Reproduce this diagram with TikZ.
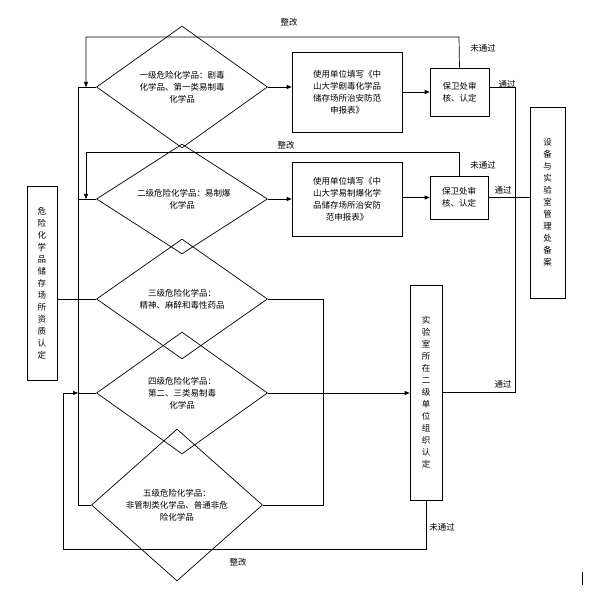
\documentclass[tikz,border=0pt]{standalone}
\usepackage{fontspec}
\setmainfont{Noto Sans CJK SC}
\usetikzlibrary{shapes.geometric,arrows.meta}
\begin{document}
\begin{tikzpicture}[x=1pt,y=-1pt,font=\fontsize{8.5}{12}\selectfont,
  line/.style={draw,line width=0.7pt},
  arr/.style={line,-{Triangle[length=5pt,width=4pt]}},
  dia/.style={draw,line width=0.7pt,diamond,inner sep=0pt,align=center},
  box/.style={draw,line width=0.7pt,inner sep=1pt,align=center},
  lbl/.style={inner sep=1pt}]
\useasboundingbox (0,0) rectangle (606,601);
% diamonds
\node[dia,minimum width=171pt,minimum height=70pt,text width=90pt] (d1) at (182,87) {一级危险化学品：剧毒\\化学品、第一类易制毒\\化学品};
\node[dia,minimum width=171pt,minimum height=58pt,text width=90pt] (d2) at (182,199) {二级危险化学品：易制爆\\化学品};
\node[dia,minimum width=171pt,minimum height=62pt,text width=100pt] (d3) at (182,299) {三级危险化学品：\\精神、麻醉和毒性药品};
\node[dia,minimum width=171pt,minimum height=65pt,text width=90pt] (d4) at (182,393) {四级危险化学品：\\第二、三类易制毒\\化学品};
\node[dia,minimum width=171pt,minimum height=60pt,text width=120pt] (d5) at (177,505) {五级危险化学品：\\非管制类化学品、普通非危\\险化学品};
% boxes
\node[box,minimum width=110pt,minimum height=80pt,text width=100pt] (b1) at (347,92) {使用单位填写《中\\山大学剧毒化学品\\储存场所治安防范\\申报表》};
\node[box,minimum width=110pt,minimum height=74pt,text width=100pt] (b2) at (347,199) {使用单位填写《中\\山大学易制爆化学\\品储存场所治安防\\范申报表》};
\node[box,minimum width=59pt,minimum height=48pt,text width=50pt] (s1) at (459.5,92) {保卫处审\\核、认定};
\node[box,minimum width=58pt,minimum height=43pt,text width=50pt] (s2) at (459,197.5) {保卫处审\\核、认定};
\node[box,minimum width=35pt,minimum height=191pt,text width=10pt] (eq) at (547.5,202.5) {设\\备\\与\\实\\验\\室\\管\\理\\处\\备\\案};
\node[box,minimum width=30pt,minimum height=194pt,text width=10pt] (hz) at (42,283) {危\\险\\化\\学\\品\\储\\存\\场\\所\\资\\质\\认\\定};
\node[box,minimum width=32pt,minimum height=215pt,text width=10pt] (lab) at (426,392.5) {实\\验\\室\\所\\在\\二\\级\\单\\位\\组\\织\\认\\定};
% coordinates
\coordinate (t1) at (78,87);
\coordinate (t5) at (78,505);
\coordinate (c3) at (323,299);
\coordinate (c5) at (323,505);
\coordinate (f1a) at (459,37);
\coordinate (f1b) at (86,37);
\coordinate (f1c) at (86,87);
\coordinate (f2a) at (459,152);
\coordinate (f2b) at (86,152);
\coordinate (f2c) at (86,199);
\coordinate (p1) at (515,87);
\coordinate (p2) at (515,392);
\coordinate (r1) at (426,549);
\coordinate (r2) at (63,549);
\coordinate (r3) at (63,393);
% connectors
\draw[line] (t1) -- (t5);
\draw[line] (t1) -- (d1.west);
\draw[line] (78,199) -- (d2.west);
\draw[line] (t5) -- (d5.west);
\draw[line] (hz.east |- d3.west) -- (d3.west);
\draw[arr] (d1.east) -- (b1.west |- d1.east);
\draw[arr] (d2.east) -- (b2.west |- d2.east);
\draw[arr] (b1.east |- s1.west) -- (s1.west);
\draw[arr] (b2.east |- s2.west) -- (s2.west);
\draw[line] (d3.east) -- (c3) -- (c5) -- (d5.east);
\draw[arr] (d4.east) -- (lab.west |- d4.east);
\draw[arr] (s1.north) -- (f1a) -- (f1b) -- (f1c);
\draw[arr] (s2.north) -- (f2a) -- (f2b) -- (f2c);
\draw[line] (s1.east |- p1) -- (p1) -- (p2) -- (lab.east |- p2);
\draw[line] (s2.east) -- (eq.west |- s2.east);
\draw[line] (lab.south) -- (r1) -- (r2) -- (r3);
\draw[arr] (r3) -- (78,393);
\draw[line] (78,393) -- (d4.west);
\draw[line] (582,572) -- (582,585);
% labels
\node[lbl] (l1) at (289,22) {整改};
\node[lbl] (l2) at (286,145) {整改};
\node[lbl] (l3) at (238,562) {整改};
\node[lbl] (l4) at (483,48) {未通过};
\node[lbl] (l5) at (483,165) {未通过};
\node[lbl] (l6) at (442,527) {未通过};
\node[lbl] (l7) at (507,84) {通过};
\node[lbl] (l8) at (503,190) {通过};
\node[lbl] (l9) at (503,384) {通过};
\end{tikzpicture}
\end{document}
